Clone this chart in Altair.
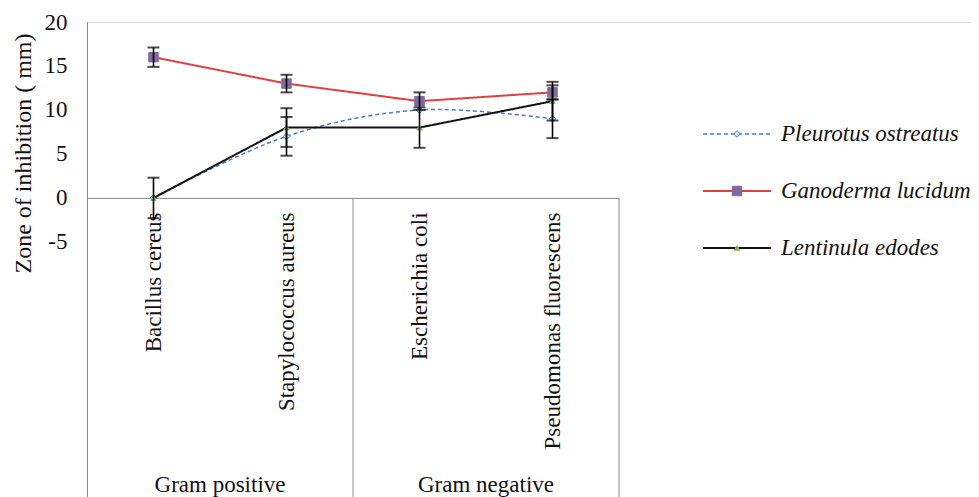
import altair as alt
import pandas as pd

categories = ["Bacillus cereus", "Stapylococcus aureus", "Escherichia coli", "Pseudomonas fluorescens"]
groups = ["Gram positive", "Gram negative"]
series = ["Pleurotus ostreatus", "Ganoderma lucidum", "Lentinula edodes"]

pleurotus = [0, 7, 10, 9]
pleurotus_err = [0, 2.2, 0, 2.2]
ganoderma = [16, 13, 11, 12]
ganoderma_err = [1.1, 1.0, 1.0, 0.8]
lentinula = [0, 8, 8, 11]
lentinula_err = [2.3, 2.2, 2.3, 2.2]

y_ticks = [-5, 0, 5, 10, 15, 20]
y_domain = [-34, 20]

W, H = 884, 475
XR = 532
FONT = "'Liberation Serif', 'Times New Roman', Times, serif"

rows = []
for name, vals, errs in [(series[0], pleurotus, pleurotus_err),
                         (series[1], ganoderma, ganoderma_err),
                         (series[2], lentinula, lentinula_err)]:
    for c, v, e in zip(categories, vals, errs):
        rows.append({"series": name, "category": c, "value": v, "err": e,
                     "lo": v - e, "hi": v + e})
df = pd.DataFrame(rows)

zero_px = (y_domain[1] - 0) / (y_domain[1] - y_domain[0]) * H
x_axis = alt.Axis(title=None, orient="bottom", offset=-(H - zero_px), labelAngle=270,
                  labelPadding=14, ticks=False, domainColor="#8a8a8a", domainWidth=1,
                  labelFont=FONT, labelFontSize=23, labelColor="#111", labelLimit=400)
x_scale = alt.Scale(domain=categories, range=[0, XR], paddingInner=0, paddingOuter=0)


def X(**kw):
    return alt.X("category:N", sort=categories, scale=x_scale, axis=x_axis, **kw)


y_axis = alt.Axis(values=y_ticks, grid=False, ticks=False, domainColor="#8a8a8a",
                  labelFont=FONT, labelFontSize=23, labelColor="#111", labelPadding=20,
                  labelExpr="datum.value + ''",
                  title="Zone of inhibition ( mm)", titleFont=FONT, titleFontSize=24,
                  titleFontWeight="normal", titleColor="#111", titleAngle=270,
                  titleX=-64, titleY=131, titleAlign="center", titleBaseline="middle")
y_scale = alt.Scale(domain=y_domain, nice=False, zero=False)


def Y(field):
    return alt.Y(f"{field}:Q", scale=y_scale, axis=y_axis)


def YD(v):
    return alt.Y(datum=v, scale=y_scale, axis=y_axis)


base = alt.Chart(df)

styles = {
    series[0]: dict(color="#4a7ebb", dash=[4, 3], width=1.5, shape="diamond",
                    fill="#dce6f2", mstroke="#4a7ebb", size=45, interp="cardinal"),
    series[1]: dict(color="#e0403f", dash=[1, 0], width=2, shape="square",
                    fill="#7f6a9e", mstroke="#7f6a9e", size=90, interp="linear"),
    series[2]: dict(color="#111111", dash=[1, 0], width=2, shape="triangle-up",
                    fill="#8db360", mstroke="#8db360", size=30, interp="linear"),
}

layers = []
for s in series:
    st = styles[s]
    d = base.transform_filter(alt.datum.series == s)
    layers.append(d.mark_line(color=st["color"], strokeWidth=st["width"],
                              strokeDash=st["dash"], interpolate=st["interp"])
                  .encode(x=X(), y=Y("value")))
    layers.append(d.mark_point(shape=st["shape"], filled=True, fill=st["fill"],
                               stroke=st["mstroke"], strokeWidth=1, size=st["size"], opacity=1)
                  .encode(x=X(), y=Y("value")))

err = base.transform_filter(alt.datum.err > 0)
layers.append(err.mark_rule(color="#000", strokeWidth=1.6).encode(x=X(), y=Y("lo"), y2="hi:Q"))
layers.append(err.mark_tick(color="#000", orient="horizontal", size=12, thickness=2)
              .encode(x=X(), y=Y("lo")))
layers.append(err.mark_tick(color="#000", orient="horizontal", size=12, thickness=2)
              .encode(x=X(), y=Y("hi")))

# group separators
sep_df = pd.DataFrame({"category": [categories[2]]})
layers.append(alt.Chart(sep_df).mark_rule(color="#8a8a8a", strokeWidth=1)
              .encode(x=X(bandPosition=0), y=YD(0), y2=alt.Y2(datum=y_domain[0])))
right_df = pd.DataFrame({"category": [categories[3]]})
layers.append(alt.Chart(right_df).mark_rule(color="#8a8a8a", strokeWidth=1)
              .encode(x=X(bandPosition=1), y=YD(0), y2=alt.Y2(datum=y_domain[0])))

# group labels
grp_df = pd.DataFrame({"group": groups, "category": [categories[1], categories[3]]})
layers.append(alt.Chart(grp_df).mark_text(font=FONT, fontSize=23, color="#111",
                                          baseline="middle", align="center")
              .encode(x=X(bandPosition=0), y=alt.value(463), text="group:N"))

# legend
leg_y = [112, 169, 226]
for s, ly in zip(series, leg_y):
    st = styles[s]
    ldf = pd.DataFrame({"name": [s]})
    lc = alt.Chart(ldf)
    layers.append(lc.mark_rule(color=st["color"], strokeWidth=st["width"], strokeDash=st["dash"])
                  .encode(x=alt.value(616), x2=alt.value(684), y=alt.value(ly)))
    layers.append(lc.mark_point(shape=st["shape"], filled=True, fill=st["fill"],
                                stroke=st["mstroke"], strokeWidth=1, size=st["size"], opacity=1)
                  .encode(x=alt.value(650), y=alt.value(ly)))
    layers.append(lc.mark_text(font=FONT, fontSize=23, fontStyle="italic", color="#111",
                               align="left", baseline="middle")
                  .encode(x=alt.value(694), y=alt.value(ly), text="name:N"))

chart = alt.layer(*layers).properties(
    width=W, height=H,
    autosize=alt.AutoSizeParams(type="none"),
    padding={"left": 79, "top": 14, "right": 0, "bottom": 0},
).configure_view(stroke=None).configure_axis(
    labelFont=FONT, titleFont=FONT
).configure_text(font=FONT).configure(background="white", font=FONT)

chart.save("out.html", embed_options={"renderer": "svg", "actions": False})
